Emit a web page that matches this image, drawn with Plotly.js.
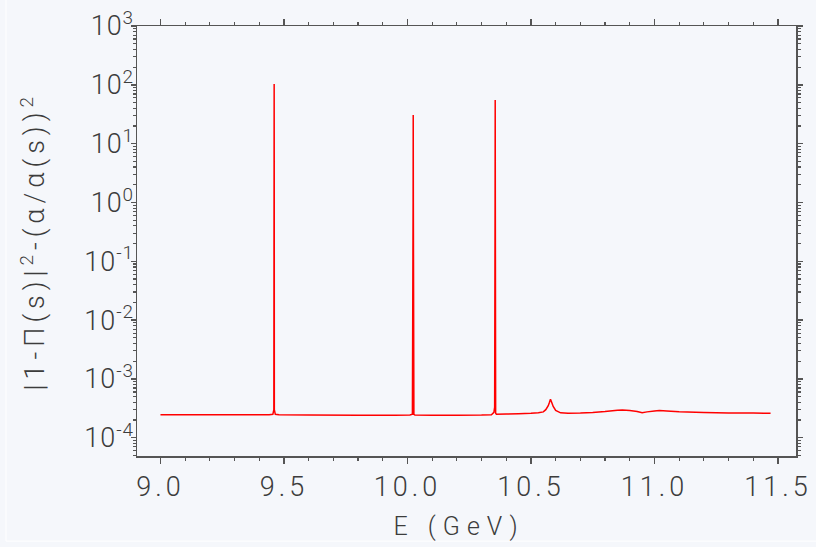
<!DOCTYPE html>
<html>
<head>
<meta charset="utf-8">
<script src="https://cdn.plot.ly/plotly-3.0.1.min.js"></script>
<style>
  html, body { margin: 0; padding: 0; background: #f5f7fb; }
  #chart { width: 816px; height: 547px; }
  .xtick text { letter-spacing: 4px; }
  .ytick text { letter-spacing: 1px; }
  .annotation text.xt { letter-spacing: 7px; }
  .annotation text { letter-spacing: 5px; }
</style>
</head>
<body>
<div id="chart"></div>
<script>
// Energy (GeV)
const energy = [
  9.00, 9.10, 9.20, 9.30, 9.40, 9.44, 9.455, 9.459, 9.4600, 9.4603, 9.4606, 9.461, 9.465, 9.48,
  9.60, 9.80, 9.95, 10.01, 10.020, 10.0228, 10.0233, 10.0238, 10.026, 10.03,
  10.10, 10.20, 10.30, 10.34, 10.350, 10.353, 10.3547, 10.3552, 10.3557, 10.357, 10.36,
  10.40, 10.45, 10.50, 10.53, 10.55, 10.56, 10.57, 10.575, 10.579, 10.583, 10.59, 10.60,
  10.62, 10.65, 10.70, 10.75, 10.80, 10.85, 10.87, 10.90, 10.93, 10.95, 10.97, 11.00,
  11.02, 11.05, 11.10, 11.20, 11.30, 11.40, 11.47
];
// |1-Pi(s)|^2 - (alpha/alpha(s))^2
const values = [
  2.45e-4, 2.45e-4, 2.45e-4, 2.45e-4, 2.45e-4, 2.46e-4, 2.5e-4, 3.0e-4, 5, 103, 5, 3.0e-4, 2.5e-4, 2.45e-4,
  2.43e-4, 2.42e-4, 2.42e-4, 2.43e-4, 2.5e-4, 1, 30.6, 1, 2.5e-4, 2.43e-4,
  2.42e-4, 2.42e-4, 2.43e-4, 2.46e-4, 2.7e-4, 3.3e-4, 1, 55, 1, 2.6e-4, 2.5e-4,
  2.52e-4, 2.55e-4, 2.6e-4, 2.65e-4, 2.75e-4, 3.0e-4, 3.5e-4, 4.0e-4, 4.5e-4, 4.1e-4, 3.4e-4, 2.9e-4,
  2.65e-4, 2.6e-4, 2.62e-4, 2.68e-4, 2.78e-4, 2.93e-4, 2.95e-4, 2.9e-4, 2.8e-4, 2.65e-4, 2.75e-4, 2.85e-4,
  2.9e-4, 2.85e-4, 2.75e-4, 2.68e-4, 2.64e-4, 2.62e-4, 2.6e-4
];
const yTickVals = [1e-4, 1e-3, 1e-2, 1e-1, 1e0, 1e1, 1e2, 1e3];
const yTickText = ['10<sup>-4</sup>', '10<sup>-3</sup>', '10<sup>-2</sup>', '10<sup>-1</sup>',
                   '10<sup>0</sup>', '10<sup>1</sup>', '10<sup>2</sup>', '10<sup>3</sup>'];
const xTitle = 'E (GeV)';
const yTitle = '|1-\u03A0(s)|<sup>2</sup>-(\u03B1/\u03B1(s))<sup>2</sup>';

const fontFam = '"Roboto", "DejaVu Sans", sans-serif';
const txtColor = '#3c3c3c';
const axColor = '#555555';

const trace = {
  x: energy, y: values, type: 'scatter', mode: 'lines',
  line: { color: '#ff0000', width: 1.5, simplify: false },
  hoverinfo: 'skip'
};

const layout = {
  width: 816, height: 547,
  margin: { l: 137, r: 20, t: 26, b: 91, pad: 0 },
  paper_bgcolor: '#f5f7fb', plot_bgcolor: '#f5f7fb',
  showlegend: false,
  font: { family: fontFam, color: txtColor, weight: 300 },
  xaxis: {
    range: [8.905, 11.573], tick0: 9, dtick: 0.5, tickformat: '.1f',
    showgrid: false, zeroline: false,
    showline: true, linecolor: axColor, linewidth: 1.5, mirror: 'allticks',
    ticks: 'outside', ticklen: 6, tickwidth: 1.5, tickcolor: axColor,
    minor: { dtick: 0.1, ticks: 'outside', ticklen: 3, tickwidth: 1.2, tickcolor: axColor, showgrid: false },
    tickfont: { size: 27, family: fontFam, color: txtColor, weight: 300 },
    ticklabelstandoff: 0
  },
  yaxis: {
    type: 'log', range: [-4.311, 3], tickmode: 'array', tickvals: yTickVals, ticktext: yTickText,
    showgrid: false, zeroline: false,
    showline: true, linecolor: axColor, linewidth: 1.5, mirror: 'allticks',
    ticks: 'outside', ticklen: 5, tickwidth: 1.5, tickcolor: axColor,
    minor: { dtick: 'D1', ticks: 'outside', ticklen: 3, tickwidth: 1.2, tickcolor: axColor, showgrid: false },
    tickfont: { size: 27, family: fontFam, color: txtColor, weight: 300 },
    ticklabelstandoff: -9
  },
  annotations: [
    { text: xTitle, xref: 'paper', yref: 'paper', x: 0.4886, y: -0.165,
      xanchor: 'center', yanchor: 'middle', showarrow: false,
      font: { size: 25, family: fontFam, color: txtColor, weight: 300 } },
    { text: yTitle, xref: 'paper', yref: 'paper', x: -0.158, y: 0.5, textangle: -90,
      xanchor: 'center', yanchor: 'middle', showarrow: false,
      font: { size: 27, family: fontFam, color: txtColor, weight: 300 } }
  ],
  shapes: [
    { type: 'line', xref: 'paper', yref: 'paper', x0: -0.1988, x1: -0.1988, y0: -0.198, y1: 1.07,
      line: { color: '#ffffff', width: 1 } },
    { type: 'line', xref: 'paper', yref: 'paper', x0: -0.1988, x1: 1.04, y0: -0.198, y1: -0.198,
      line: { color: '#ffffff', width: 1 } }
  ]
};

Plotly.newPlot('chart', [trace], layout, { displayModeBar: false, staticPlot: true }).then(function (gd) {
  const ann = gd.querySelectorAll('.annotation-text');
  if (ann.length) ann[0].style.letterSpacing = '7px';
});
</script>
</body>
</html>
